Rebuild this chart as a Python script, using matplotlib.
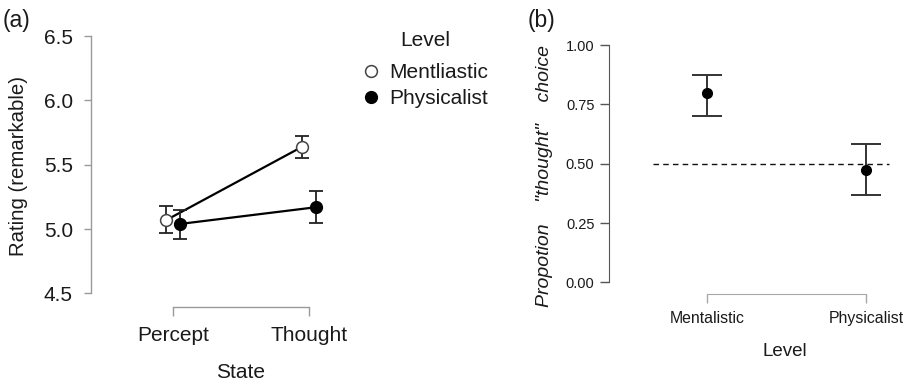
import matplotlib
matplotlib.use("Agg")
import matplotlib.pyplot as plt
from matplotlib.lines import Line2D
from matplotlib import font_manager

# panel (a): rating by state and level
states = ["Percept", "Thought"]
ment_mean = [5.07, 5.64]
ment_lo = [4.97, 5.55]
ment_hi = [5.18, 5.72]
phys_mean = [5.04, 5.17]
phys_lo = [4.92, 5.05]
phys_hi = [5.15, 5.30]
a_ticks = [4.5, 5.0, 5.5, 6.0, 6.5]

# panel (b): proportion "thought" choice
levels = ["Mentalistic", "Physicalist"]
prop = [0.80, 0.475]
prop_lo = [0.70, 0.37]
prop_hi = [0.875, 0.585]
chance = 0.5
b_ticks = [0.0, 0.25, 0.5, 0.75, 1.0]

names = {f.name for f in font_manager.fontManager.ttflist}
NARROW = "Liberation Sans Narrow" if "Liberation Sans Narrow" in names else "Liberation Sans"
nscale = 1.0 if NARROW == "Liberation Sans Narrow" else 0.88
plt.rcParams["font.family"] = ["Liberation Sans", "DejaVu Sans"]
TXT = "#1a1a1a"

W, H = 904, 381
fig = plt.figure(figsize=(W / 100, H / 100), dpi=100)


def px_axes(l, t, r, b):
    return fig.add_axes([l / W, 1 - b / H, (r - l) / W, (b - t) / H])


# ---------- panel (a)
ax = px_axes(91, 30, 345, 307)
dodge = 0.05
x = list(range(len(states)))
xm = [i - dodge for i in x]
xp = [i + dodge for i in x]
ax.plot(xm, ment_mean, color="black", lw=1.6, zorder=2)
ax.plot(xp, phys_mean, color="black", lw=1.6, zorder=2)
ax.errorbar(xm, ment_mean,
            yerr=[[m - l for m, l in zip(ment_mean, ment_lo)], [h - m for m, h in zip(ment_mean, ment_hi)]],
            fmt="none", ecolor="#222222", elinewidth=1.3, capsize=5.2, capthick=1.3, zorder=3)
ax.errorbar(xp, phys_mean,
            yerr=[[m - l for m, l in zip(phys_mean, phys_lo)], [h - m for m, h in zip(phys_mean, phys_hi)]],
            fmt="none", ecolor="#222222", elinewidth=1.3, capsize=5.2, capthick=1.3, zorder=3)
ax.plot(xm, ment_mean, "o", ms=8.5, mfc="white", mec="#444444", mew=1.1, ls="none", zorder=4)
ax.plot(xp, phys_mean, "o", ms=8.5, mfc="black", mec="black", ls="none", zorder=4)

ax.set_xlim(-0.603, 1.265)
ax.set_ylim(4.395, 6.547)
for s in ["top", "right"]:
    ax.spines[s].set_visible(False)
for s in ["left", "bottom"]:
    ax.spines[s].set_color("#9a9a9a")
    ax.spines[s].set_linewidth(1.0)
ax.spines["left"].set_bounds(4.5, 6.5)
ax.spines["bottom"].set_bounds(0, 1)
ax.set_yticks(a_ticks)
ax.set_yticklabels([f"{v:.1f}" for v in a_ticks])
ax.set_xticks(x)
ax.set_xticklabels(states)
ax.tick_params(axis="y", length=5, width=1.0, color="#9a9a9a", pad=8, labelsize=15, labelcolor=TXT)
ax.tick_params(axis="x", length=6.5, width=1.0, color="#9a9a9a", pad=7, labelsize=15, labelcolor=TXT)
ax.set_ylabel("Rating (remarkable)", fontsize=14.7, color=TXT)
ax.set_xlabel("State", fontsize=15, color=TXT)
ax.xaxis.set_label_coords((241 - 91) / (345 - 91), (307 - 372) / (307 - 30))
ax.xaxis.label.set_va("center")
ax.yaxis.set_label_coords(-(91 - 19) / (345 - 91), (307 - 166) / (307 - 30))
ax.yaxis.label.set_va("center")
ax.patch.set_visible(False)

handles = [Line2D([], [], marker="o", ls="none", ms=8.5, mfc="white", mec="#444444", mew=1.1),
           Line2D([], [], marker="o", ls="none", ms=8.5, mfc="black", mec="black")]
fig.legend(handles, ["Mentliastic", "Physicalist"], loc="upper left",
           bbox_to_anchor=(361 / W, 1 - 63 / H), frameon=False, fontsize=15,
           handlelength=1.0, handletextpad=0.35, borderpad=0, borderaxespad=0, labelspacing=0.36,
           labelcolor=TXT)
fig.text(425 / W, 1 - 40 / H, "Level", fontsize=15, ha="center", va="center", color=TXT)

# ---------- panel (b)
bx = px_axes(609, 38, 904, 293.7)
xb = list(range(len(levels)))
bx.axhline(chance, xmin=0.15, xmax=0.95, color="#111111", lw=1.0, ls=(0, (4, 3)), zorder=1)
bx.errorbar(xb, prop,
            yerr=[[p - l for p, l in zip(prop, prop_lo)], [h - p for p, h in zip(prop, prop_hi)]],
            fmt="none", ecolor="#333333", elinewidth=1.4, capsize=10.8, capthick=1.4, zorder=2)
bx.plot(xb, prop, "o", ms=7, color="black", ls="none", zorder=3)
bx.set_xlim(-0.616, 1.239)
bx.set_ylim(-0.048, 1.03)
for s in ["top", "right"]:
    bx.spines[s].set_visible(False)
bx.spines["left"].set_color("#555555")
bx.spines["bottom"].set_color("#a8a8a8")
bx.spines["left"].set_bounds(0, 1)
bx.spines["bottom"].set_bounds(0, 1)
bx.set_yticks(b_ticks)
bx.set_yticklabels([f"{v:.2f}" for v in b_ticks], family=[NARROW, "Liberation Sans"])
bx.set_xticks(xb)
bx.set_xticklabels(levels, family=[NARROW, "Liberation Sans"])
bx.tick_params(axis="y", length=6.5, width=1.0, color="#555555", pad=4, labelsize=12 * nscale, labelcolor=TXT)
bx.tick_params(axis="x", length=6.5, width=1.0, color="#a8a8a8", pad=6, labelsize=13 * nscale, labelcolor=TXT)
bx.set_ylabel("Propotion    \"thought\"    choice", fontsize=14, style="italic", color=TXT)
bx.set_xlabel("Level", fontsize=13.5, color=TXT)
bx.xaxis.set_label_coords((785 - 609) / (904 - 609), (293.7 - 352) / (293.7 - 38))
bx.xaxis.label.set_va("center")
bx.yaxis.set_label_coords(-(609 - 545) / (904 - 609), (293.7 - 176) / (293.7 - 38))
bx.yaxis.label.set_va("center")
bx.patch.set_visible(False)

fig.text(3 / W, 1 - 20 / H, "(a)", fontsize=16.5, va="center", ha="left", color=TXT)
fig.text(528 / W, 1 - 20 / H, "(b)", fontsize=16.5, va="center", ha="left", color=TXT)

fig.savefig("out.png", dpi=100)
